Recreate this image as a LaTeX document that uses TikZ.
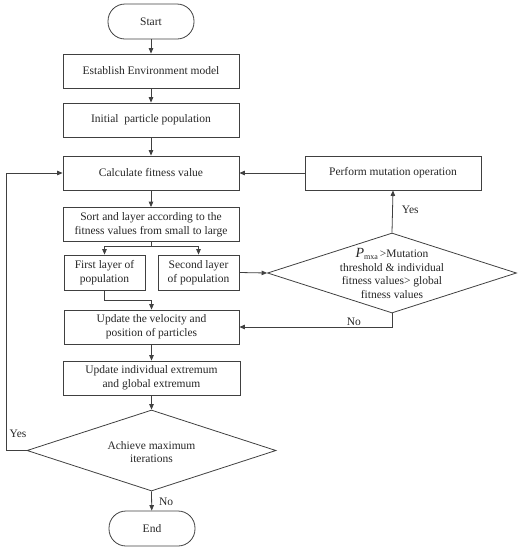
\documentclass[tikz,border=0pt]{standalone}
\usepackage{fontspec}
\setmainfont{Liberation Serif}
\usetikzlibrary{arrows.meta,shapes.geometric}
\begin{document}
\begin{tikzpicture}[x=1pt,y=-1pt,
  every node/.style={font=\fontsize{11.5}{13.8}\selectfont, text=black!85},
  line/.style={draw=black!75, line width=0.8pt},
  arr/.style={line, -{Triangle[length=5.5pt,width=4.5pt]}},
  term/.style={line, rounded corners=17pt, minimum width=86pt, minimum height=35pt, inner sep=0pt},
  box/.style={line, minimum width=176pt, minimum height=34pt, inner sep=0pt, align=center},
  sbox/.style={line, minimum width=81pt, minimum height=35pt, inner sep=0pt, align=center},
  dia/.style={line, diamond, inner sep=0pt},
  lbl/.style={inner sep=0pt, align=center}]
\useasboundingbox (0,0) rectangle (531,550);
\node[term] (start) at (151,21.5) {Start};
\node[box] (est) at (151,71) {Establish Environment model};
\node[box] (init) at (151,120) {Initial\ \ particle population};
\node[box] (calc) at (151,173) {Calculate fitness value};
\node[box] (mut) at (393,173) {Perform mutation operation};
\node[box] (sort) at (151,224.5) {Sort and layer according to the\\fitness values from small to large};
\node[sbox] (first) at (104.5,272.5) {First layer of\\population};
\node[sbox] (second) at (198.5,272.5) {Second layer\\of population};
\node[dia, minimum width=249pt, minimum height=80pt] (dec1) at (392,273) {};
\node[lbl] (dec1t) at (392,273.5) {{\fontsize{14}{14}\selectfont\itshape P}\raisebox{-2.5pt}{\fontsize{8}{8}\selectfont mxa}\,>Mutation\\threshold \& individual\\fitness values> global\\fitness values};
\node[box, minimum width=175pt] (upd) at (151.5,327) {Update the velocity and\\position of particles};
\node[box, minimum width=177pt] (ext) at (151.5,378) {Update individual extremum\\and global extremum};
\node[dia, minimum width=249pt, minimum height=81pt] (dec2) at (151.5,450.5) {};
\node[lbl] (dec2t) at (151.5,452) {Achieve maximum\\iterations};
\node[term] (end) at (152,528.5) {End};
\draw[arr] (start) -- (est);
\draw[arr] (est) -- (init);
\draw[arr] (init) -- (calc);
\draw[arr] (calc) -- (sort);
\draw[arr] (mut) -- (calc);
\draw[arr] (sort.south) -- ++(0,4) -| (first.north);
\draw[arr] (sort.south) -- ++(0,4) -| (second.north);
\draw[arr] (second.east) -- (dec1.west);
\draw[arr] (dec1.north) -- node[lbl, right=9pt, pos=0.55] (yes1) {Yes} (mut.south);
\draw[arr] (dec1.south) |- node[lbl, pos=0.625, above=1pt] (no1) {No} (upd.east);
\draw[arr] (first.south) -- ++(0,10) -| (upd.north);
\draw[arr] (upd) -- (ext);
\draw[arr] (ext) -- (dec2.north);
\draw[arr] (dec2.south) -- node[lbl, right=7pt, pos=0.55] (no2) {No} (end);
\coordinate (lp) at (6,450.5);
\draw[arr] (dec2.west) -- (lp) |- (calc.west);
\node[lbl] (yes2) at (18,434) {Yes};
\end{tikzpicture}
\end{document}
